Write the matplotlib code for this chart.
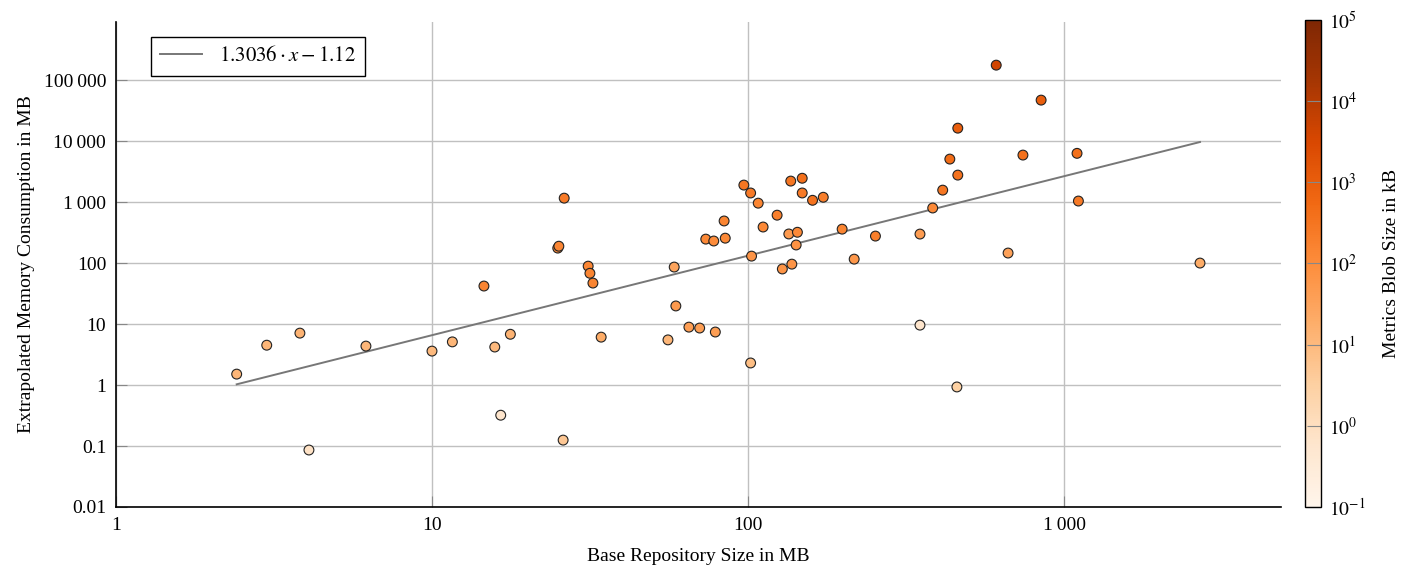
import numpy as np
import matplotlib
matplotlib.use('Agg')
import matplotlib.pyplot as plt
from matplotlib.colors import LogNorm
from matplotlib.ticker import FixedLocator, FixedFormatter, NullLocator

plt.rcParams['font.family'] = 'serif'
plt.rcParams['font.serif'] = ['Liberation Serif', 'DejaVu Serif']
plt.rcParams['mathtext.fontset'] = 'stix'
plt.rcParams['font.size'] = 14

# base repository size (MB), extrapolated memory (MB), metrics blob size (kB)
repo_size_mb = [2.41, 3.0, 3.82, 4.08, 6.18, 10.0, 11.6, 14.6, 15.8, 16.5, 17.7,
                25.0, 25.2, 26.2, 26.0, 31.2, 31.6, 32.3, 34.3, 55.8, 58.4, 59.1,
                65, 70.3, 73.5, 77.9, 78.8, 84, 84.7, 97, 101.9, 102.6, 101.9,
                107.7, 111.6, 123.6, 128.4, 134.6, 136.5, 137.6, 142, 143.3,
                148.4, 148.4, 160, 173, 198.5, 216.7, 253, 350, 350, 384, 413,
                435, 458, 461, 461, 610, 665, 741, 846, 1099, 1110, 2692]
memory_mb = [1.51, 4.5, 7.1, 0.086, 4.35, 3.6, 5.1, 42, 4.2, 0.32, 6.8,
             176, 189, 1160, 0.125, 89, 68, 47, 6.1, 5.5, 86, 19.8,
             8.9, 8.6, 247, 230, 7.4, 490, 256, 1900, 1410, 130, 2.3,
             960, 390, 610, 80, 300, 2210, 96, 198, 320,
             2460, 1410, 1070, 1200, 360, 116, 277, 299, 9.6, 800, 1570,
             5070, 0.93, 16300, 2770, 176000, 146, 5900, 47000, 6300, 1040, 100]
blob_kb = [12, 12, 14, 0.8, 12, 10, 12, 150, 10, 0.6, 14,
           120, 140, 250, 5, 140, 150, 150, 20, 12, 30, 50,
           40, 40, 120, 100, 40, 150, 120, 300, 250, 70, 8,
           150, 120, 200, 70, 50, 300, 70, 80, 120,
           400, 250, 350, 200, 150, 60, 200, 45, 0.6, 120, 300,
           500, 3, 1000, 350, 4000, 35, 400, 1000, 400, 250, 20]

fit_slope = 1.3036
fit_icpt = -1.12

y_ticks = [0.01, 0.1, 1, 10, 100, 1000, 10000, 100000]
y_labels = ['0.01', '0.1', '1', '10', '100', '1\u2009000', '10\u2009000', '100\u2009000']
x_ticks = [1, 10, 100, 1000]
x_labels = ['1', '10', '100', '1\u2009000']
cb_ticks = [0.1, 1, 10, 100, 1000, 10000, 100000]
cb_labels = [r'$10^{-1}$', r'$10^{0}$', r'$10^{1}$', r'$10^{2}$',
             r'$10^{3}$', r'$10^{4}$', r'$10^{5}$']

fig = plt.figure(figsize=(14.14, 5.68), dpi=100)
ax = fig.add_axes([0.082, 0.1074, 0.824, 0.854])
cax = fig.add_axes([0.923, 0.1074, 0.0113, 0.8574])

ax.set_xscale('log')
ax.set_yscale('log')
ax.set_xlim(1, 4860)
ax.set_ylim(0.01, 9e5)

# grid first so it sits behind the points
ax.grid(True, color='#c0c0c0', linewidth=1.0)
ax.set_axisbelow(True)

norm = LogNorm(vmin=0.1, vmax=1e5)
sc = ax.scatter(repo_size_mb, memory_mb, c=blob_kb, cmap='Oranges', norm=norm,
                s=50, edgecolors='#222222', linewidths=0.8, zorder=3)

# regression line in log-log space
xs = np.sort(np.array(repo_size_mb))
ys = np.exp(fit_icpt) * xs ** fit_slope
ax.plot(xs, ys, color='#777777', linewidth=1.4, zorder=2,
        label=r'$1.3036 \cdot x - 1.12$')

ax.xaxis.set_major_locator(FixedLocator(x_ticks))
ax.xaxis.set_major_formatter(FixedFormatter(x_labels))
ax.yaxis.set_major_locator(FixedLocator(y_ticks))
ax.yaxis.set_major_formatter(FixedFormatter(y_labels))
ax.xaxis.set_minor_locator(NullLocator())
ax.yaxis.set_minor_locator(NullLocator())
ax.tick_params(direction='in', length=8, color='#888888', labelsize=14, pad=7)

for s in ['top', 'right']:
    ax.spines[s].set_visible(False)
ax.spines['left'].set_linewidth(1.2)
ax.spines['bottom'].set_linewidth(1.2)

ax.set_xlabel('Base Repository Size in MB', fontsize=14, labelpad=10)
ax.set_ylabel('Extrapolated Memory Consumption in MB', fontsize=14, labelpad=6)

leg = ax.legend(loc='upper left', bbox_to_anchor=(0.030, 0.969), fontsize=15,
                fancybox=False, framealpha=1, edgecolor='black',
                handlelength=2.0, borderpad=0.45, borderaxespad=0)
leg.get_frame().set_linewidth(1.0)

cb = fig.colorbar(sc, cax=cax)
cb.outline.set_linewidth(1.0)
cb.ax.yaxis.set_major_locator(FixedLocator(cb_ticks))
cb.ax.yaxis.set_major_formatter(FixedFormatter(cb_labels))
cb.ax.yaxis.set_minor_locator(NullLocator())
cb.ax.set_xticks([])
cb.ax.tick_params(direction='in', length=10, color='#888888', labelsize=14, pad=6)
cb.set_label('Metrics Blob Size in kB', fontsize=14, labelpad=12)

fig.savefig('out.png', dpi=100)
